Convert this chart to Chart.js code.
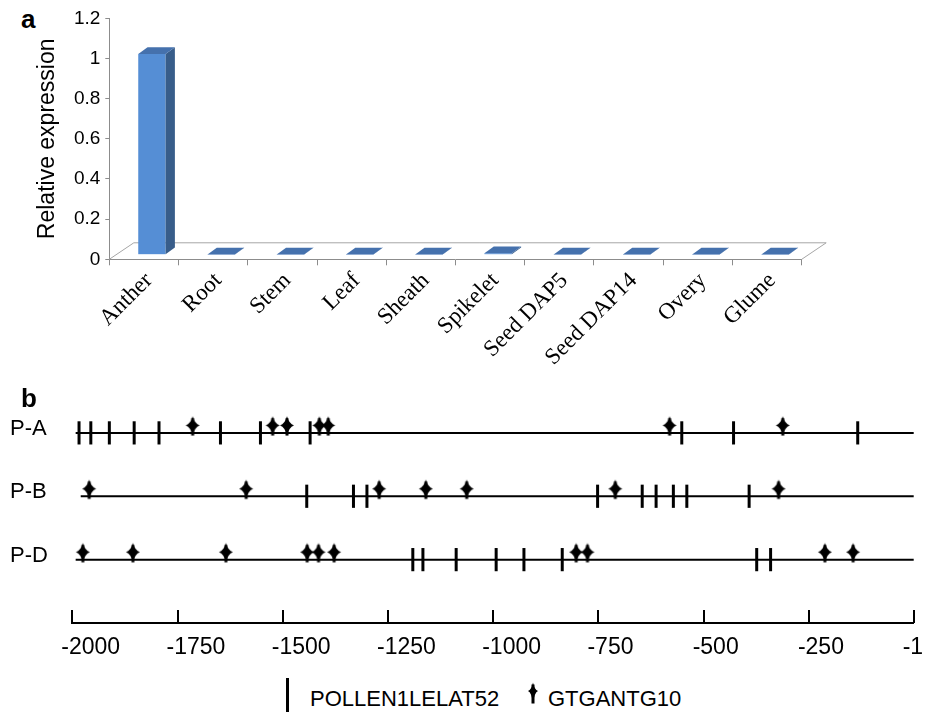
<!DOCTYPE html>
<html>
<head>
<meta charset="utf-8">
<script src="https://cdn.jsdelivr.net/npm/chart.js@4.4.1/dist/chart.umd.min.js"></script>
<style>
  body { margin: 0; background: #fff; width: 930px; height: 712px; overflow: hidden; position: relative;
         font-family: "Liberation Sans", Arial, sans-serif; }
  canvas { position: absolute; left: 0; }
  #chartA { top: 0; }
  #chartB { top: 385px; }
  .panel { position: absolute; font-weight: bold; font-size: 26px; line-height: 26px; color: #000; }
  .legend-text { position: absolute; font-size: 22px; line-height: 22px; color: #000; }
</style>
</head>
<body>
<div class="panel" style="left:21px; top:6px;">a</div>
<canvas id="chartA" width="930" height="385"></canvas>
<div class="panel" style="left:21px; top:385px;">b</div>
<canvas id="chartB" width="930" height="290"></canvas>
<div style="position:absolute; left:286px; top:678px; width:3px; height:34px; background:#000;"></div>
<div class="legend-text" style="left:310px; top:688px;">POLLEN1LELAT52</div>
<canvas id="legendStar" width="14" height="22" style="left:526px; top:682px;"></canvas>
<div class="legend-text" style="left:548px; top:688px;">GTGANTG10</div>

<script>
// panel a: relative expression per tissue
var tissues = ['Anther', 'Root', 'Stem', 'Leaf', 'Sheath', 'Spikelet', 'Seed DAP5', 'Seed DAP14', 'Overy', 'Glume'];
var expression = [1.0, 0.002, 0.002, 0.002, 0.002, 0.008, 0.002, 0.002, 0.002, 0.002];
var expressionTicks = [0, 0.2, 0.4, 0.6, 0.8, 1, 1.2];

// panel b: promoter motifs, position from start codon
var rowNames = ['P-A', 'P-B', 'P-D'];
var rowStarts = [-1992, -1980, -1992];
var positionTicks = [-2000, -1750, -1500, -1250, -1000, -750, -500, -250, -1];

var pollenA = [-1984, -1956, -1912, -1853, -1794, -1648, -1553, -1435, -552, -429, -134];
var gtgA = [-1714, -1524, -1490, -1413, -1392, -581, -312];
var pollenB = [-1443, -1332, -1300, -752, -646, -613, -572, -540, -392];
var gtgB = [-1960, -1587, -1271, -1160, -1063, -710, -322];
var pollenD = [-1191, -1167, -1088, -993, -927, -836, -374, -341];
var gtgD = [-1975, -1856, -1635, -1442, -1415, -1378, -803, -776, -212, -145];

var pollenRows = [pollenA, pollenB, pollenD];
var gtgRows = [gtgA, gtgB, gtgD];

Chart.defaults.font.family = '"Liberation Sans", Arial, sans-serif';

// the little sparkle used for GTGANTG10
function drawSparkle(c, cx, cy, rx, up, down)
{
    var k = rx * 0.28;
    c.fillStyle = '#000';
    c.beginPath();
    c.moveTo(cx, cy - up);
    c.quadraticCurveTo(cx + k, cy - k, cx + rx, cy);
    c.quadraticCurveTo(cx + k, cy + k, cx, cy + down);
    c.quadraticCurveTo(cx - k, cy + k, cx - rx, cy);
    c.quadraticCurveTo(cx - k, cy - k, cx, cy - up);
    c.fill();
    c.fillRect(cx - 1.5, cy - up + 2, 3, up + down - 2);
}

var starMark = document.createElement('canvas');
starMark.width = 16;
starMark.height = 36;
drawSparkle(starMark.getContext('2d'), 8, 10.6, 7, 9.3, 10);

drawSparkle(document.getElementById('legendStar').getContext('2d'), 7, 9, 5, 8.5, 12.5);

// ---------- panel a ----------
var floorPlugin = {
    id: 'floor',
    beforeDatasetsDraw: function(chart)
    {
        var a = chart.chartArea, c = chart.ctx;
        c.save();
        c.strokeStyle = '#a6a6a6';
        c.lineWidth = 1;
        c.beginPath();
        c.moveTo(a.left, a.bottom);
        c.lineTo(a.left + 24.5, a.bottom - 16.5);
        c.lineTo(a.right + 24.5, a.bottom - 16.5);
        c.lineTo(a.right, a.bottom);
        c.stroke();
        c.restore();
    }
};

var depthPlugin = {
    id: 'depth',
    beforeDatasetsDraw: function(chart)
    {
        chart.ctx.save();
        chart.ctx.translate(8, -4.5);
    },
    afterDatasetsDraw: function(chart)
    {
        var c = chart.ctx;
        chart.getDatasetMeta(0).data.forEach(function(bar)
        {
            var p = bar.getProps(['x', 'y', 'base', 'width'], true);
            var l = p.x - p.width / 2, r = p.x + p.width / 2;
            c.fillStyle = '#385d8a';
            c.beginPath();
            c.moveTo(r, p.y);
            c.lineTo(r + 9.3, p.y - 6.7);
            c.lineTo(r + 9.3, p.base - 6.7);
            c.lineTo(r, p.base);
            c.closePath();
            c.fill();
            c.fillStyle = '#4571ad';
            c.beginPath();
            c.moveTo(l, p.y);
            c.lineTo(l + 9.3, p.y - 6.7);
            c.lineTo(r + 9.3, p.y - 6.7);
            c.lineTo(r, p.y);
            c.closePath();
            c.fill();
        });
        c.restore();
    }
};

new Chart(document.getElementById('chartA'),
{
    type: 'bar',
    data:
    {
        labels: tissues,
        datasets: [{
            data: expression,
            backgroundColor: '#558ed5',
            barPercentage: 0.395,
            categoryPercentage: 1
        }]
    },
    options:
    {
        responsive: false,
        animation: false,
        layout: { padding: { left: 0, top: 18.3, right: 128.3, bottom: 0 } },
        plugins: { legend: { display: false }, tooltip: { enabled: false } },
        scales:
        {
            x:
            {
                grid: { drawOnChartArea: false, tickLength: 6, color: '#8c8c8c' },
                border: { color: '#8c8c8c' },
                ticks:
                {
                    autoSkip: false, minRotation: 45, maxRotation: 45, padding: 2, labelOffset: 5, color: '#000',
                    font: { family: '"Liberation Serif", "Times New Roman", serif', size: 23 }
                },
                afterFit: function(s) { s.height = 125.7; s.paddingLeft = 0; s.paddingRight = 0; }
            },
            y:
            {
                min: 0,
                max: 1.2,
                afterBuildTicks: function(s) { s.ticks = expressionTicks.map(function(v) { return { value: v }; }); },
                ticks:
                {
                    padding: 5, color: '#000', font: { size: 19 },
                    callback: function(v) { return String(Math.round(v * 10) / 10); }
                },
                grid: { drawOnChartArea: false, tickLength: 4, color: '#8c8c8c' },
                border: { color: '#8c8c8c' },
                title:
                {
                    display: true, text: 'Relative expression', color: '#000',
                    font: { size: 23 }, padding: { top: 34, bottom: 0 }
                },
                afterFit: function(s) { s.width = 109.3; }
            }
        }
    },
    plugins: [floorPlugin, depthPlugin]
});

// ---------- panel b ----------
var upTicks = {
    id: 'upTicks',
    afterDraw: function(chart)
    {
        var sc = chart.scales.x, c = chart.ctx;
        c.save();
        c.strokeStyle = '#000';
        c.lineWidth = 2;
        sc.ticks.forEach(function(t)
        {
            var px = Math.round(sc.getPixelForValue(t.value));
            c.beginPath();
            c.moveTo(px, sc.top);
            c.lineTo(px, sc.top - 13);
            c.stroke();
        });
        c.restore();
    }
};

var datasetsB = [];
rowNames.forEach(function(name, i)
{
    datasetsB.push({
        data: [{ x: rowStarts[i], y: i }, { x: -1, y: i }],
        showLine: true, borderColor: '#000', borderWidth: 2, pointRadius: 0, clip: false, order: 3
    });
    datasetsB.push({
        data: pollenRows[i].map(function(v) { return { x: v, y: i }; }),
        pointStyle: 'line', pointRotation: 90, pointRadius: 11.6,
        pointBorderColor: '#000', pointBorderWidth: 3, clip: false, order: 2
    });
    datasetsB.push({
        data: gtgRows[i].map(function(v) { return { x: v, y: i }; }),
        pointStyle: starMark, pointRadius: 10, clip: false, order: 1
    });
});

new Chart(document.getElementById('chartB'),
{
    type: 'scatter',
    data: { datasets: datasetsB },
    options:
    {
        responsive: false,
        animation: false,
        layout: { padding: { left: 10, top: 13.7, right: 16.3, bottom: 0 } },
        plugins: { legend: { display: false }, tooltip: { enabled: false } },
        scales:
        {
            x:
            {
                type: 'linear', min: -2000, max: -1,
                afterBuildTicks: function(s) { s.ticks = positionTicks.map(function(v) { return { value: v }; }); },
                ticks:
                {
                    align: 'start', labelOffset: -11, padding: 11, color: '#000', font: { size: 23 },
                    callback: function(v) { return String(v); }
                },
                grid: { drawOnChartArea: false, drawTicks: false },
                border: { color: '#000', width: 2 },
                afterFit: function(s) { s.height = 52; s.paddingLeft = 0; s.paddingRight = 0; }
            },
            y:
            {
                type: 'linear', reverse: true, min: -0.5, max: 3,
                afterBuildTicks: function(s) { s.ticks = rowNames.map(function(n, i) { return { value: i }; }); },
                ticks:
                {
                    crossAlign: 'far', labelOffset: -4, color: '#000', font: { size: 22 },
                    callback: function(v) { return rowNames[v]; }
                },
                grid: { display: false },
                border: { display: false },
                afterFit: function(s) { s.width = 62.3; }
            }
        }
    },
    plugins: [upTicks]
});
</script>
</body>
</html>
